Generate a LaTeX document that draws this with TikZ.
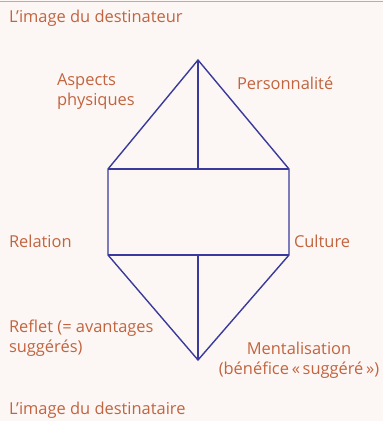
\documentclass[tikz,border=0pt]{standalone}
\usepackage{fontspec}
\setmainfont{Open Sans}
\definecolor{labelorange}{HTML}{C2643F}
\definecolor{lineblue}{HTML}{3A3A9C}
\definecolor{paper}{HTML}{FCF7F4}
\definecolor{topline}{HTML}{CFA597}
\begin{document}
\begin{tikzpicture}[x=1bp, y=-1bp,
  every node/.style = {inner sep=0pt, outer sep=0pt,
    text=labelorange, align=left,
    font=\fontsize{16.5}{20}\selectfont},
  edge/.style = {draw=lineblue, line width=1.4bp, line join=miter}]
  % background
  \fill[paper] (0,0) rectangle (383,421);
  \useasboundingbox (0,0) rectangle (383,421);
  \draw[topline, line width=1.5bp] (0,1.5) -- (383,1.5);

  % the shape
  \coordinate (top) at (198,60);
  \coordinate (tl) at (108,169);
  \coordinate (tr) at (289,169);
  \coordinate (tm) at (198,169);
  \coordinate (bl) at (108,255);
  \coordinate (br) at (289,255);
  \coordinate (bm) at (198,255);
  \coordinate (bot) at (198,360);

  \draw[edge] (tl) -- (top) -- (tr) -- (br) -- (bot) -- (bl) -- cycle;
  \draw[edge] (tl) -- (tr);
  \draw[edge] (bl) -- (br);
  \draw[edge] (top) -- (tm);
  \draw[edge] (bm) -- (bot);

  % labels
  \node[anchor=west] (dest) at (9,18) {L’image du destinateur};
  \node[anchor=west] (aspects) at (57,92) {Aspects\\physiques};
  \node[anchor=west] (perso) at (237,83) {Personnalité};
  \node[anchor=west] (relation) at (9,241) {Relation};
  \node[anchor=west] (culture) at (294,241) {Culture};
  \node[anchor=west] (reflet) at (9,338) {Reflet (= avantages\\suggérés)};
  \node[align=center] (mental) at (299,360) {Mentalisation\\(bénéfice\,«\,suggéré\,»)};
  \node[anchor=west] (destinataire) at (9,410) {L’image du destinataire};
\end{tikzpicture}
\end{document}
